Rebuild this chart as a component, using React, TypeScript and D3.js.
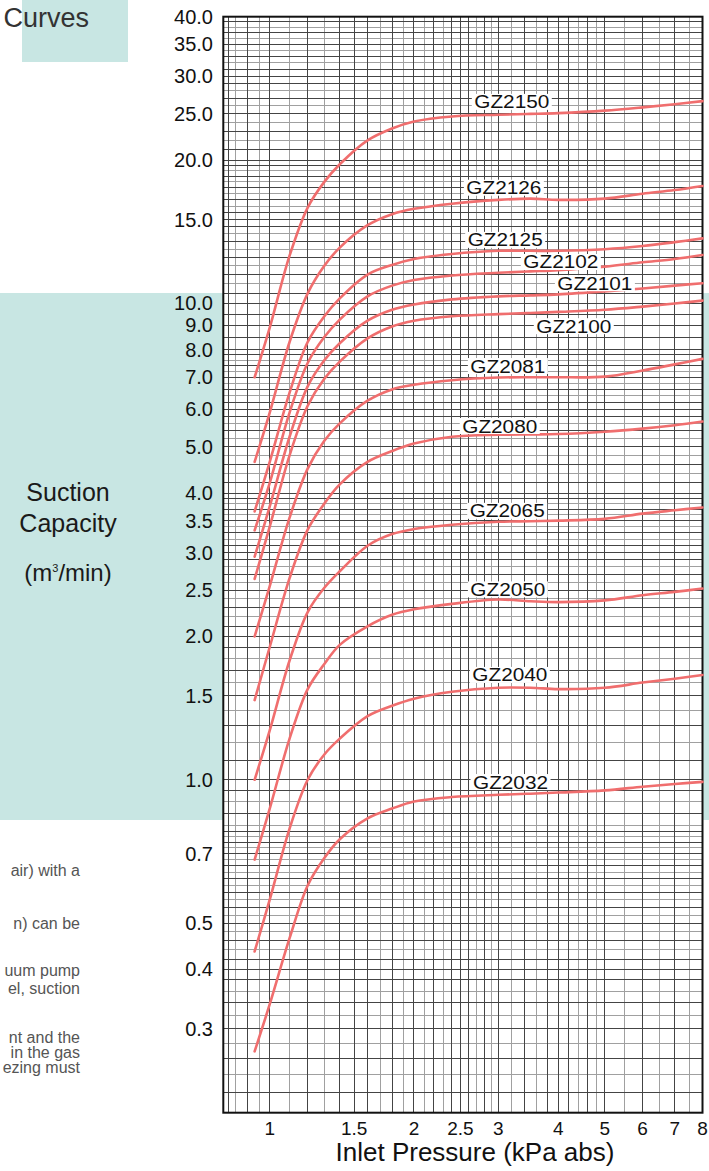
import React from "react";
import * as d3 from "d3";

const W = 709;
const H = 1171;

// Inlet pressure (kPa abs) sample points shared by every curve
const pressures = [0.93, 1.0, 1.1, 1.2, 1.3, 1.4, 1.6, 1.8, 2.0, 2.4, 3.0, 3.5, 4.0, 5.0, 6.0, 7.0, 8.0];

// Suction capacity (m3/min) per model
const gz2150 = [7.0, 8.9, 12.6, 15.9, 18.0, 19.6, 22.0, 23.3, 24.1, 24.7, 24.9, 25.0, 25.1, 25.4, 25.8, 26.2, 26.6];
const gz2126 = [4.65, 5.9, 8.3, 10.5, 12.0, 13.1, 14.6, 15.4, 15.8, 16.2, 16.5, 16.6, 16.5, 16.6, 17.0, 17.3, 17.65];
const gz2125 = [3.66, 4.65, 6.5, 8.3, 9.4, 10.25, 11.5, 12.05, 12.4, 12.7, 12.9, 12.9, 12.9, 13.0, 13.2, 13.45, 13.7];
const gz2102 = [3.34, 4.2, 5.9, 7.5, 8.5, 9.25, 10.35, 10.9, 11.2, 11.45, 11.6, 11.68, 11.75, 11.95, 12.2, 12.4, 12.64];
const gz2101 = [2.94, 3.75, 5.25, 6.7, 7.6, 8.25, 9.2, 9.7, 9.95, 10.2, 10.35, 10.4, 10.45, 10.6, 10.75, 10.9, 11.03];
const gz2100 = [2.64, 3.4, 4.8, 6.1, 6.95, 7.55, 8.45, 8.95, 9.2, 9.4, 9.5, 9.55, 9.6, 9.7, 9.85, 10.0, 10.14];
const gz2081 = [2.0, 2.55, 3.55, 4.5, 5.15, 5.6, 6.25, 6.6, 6.75, 6.9, 6.99, 7.0, 7.0, 7.02, 7.23, 7.45, 7.65];
const gz2080 = [1.47, 1.9, 2.65, 3.35, 3.8, 4.17, 4.65, 4.9, 5.08, 5.25, 5.3, 5.31, 5.32, 5.38, 5.46, 5.55, 5.65];
const gz2065 = [1.0, 1.27, 1.78, 2.25, 2.53, 2.74, 3.1, 3.28, 3.36, 3.43, 3.48, 3.49, 3.5, 3.53, 3.62, 3.68, 3.73];
const gz2050 = [0.68, 0.87, 1.22, 1.55, 1.75, 1.92, 2.1, 2.22, 2.28, 2.34, 2.39, 2.37, 2.36, 2.38, 2.44, 2.48, 2.52];
const gz2040 = [0.436, 0.56, 0.79, 1.0, 1.13, 1.22, 1.36, 1.43, 1.48, 1.53, 1.56, 1.56, 1.55, 1.56, 1.6, 1.63, 1.66];
const gz2032 = [0.269, 0.338, 0.465, 0.6, 0.685, 0.75, 0.83, 0.87, 0.9, 0.92, 0.93, 0.935, 0.94, 0.95, 0.967, 0.98, 0.99];

const seriesNames = ["GZ2150", "GZ2126", "GZ2125", "GZ2102", "GZ2101", "GZ2100", "GZ2081", "GZ2080", "GZ2065", "GZ2050", "GZ2040", "GZ2032"];
const seriesValues = [gz2150, gz2126, gz2125, gz2102, gz2101, gz2100, gz2081, gz2080, gz2065, gz2050, gz2040, gz2032];

// label anchor (data units)
const labelPressure = [3.2, 3.08, 3.1, 4.05, 4.77, 4.31, 3.14, 3.02, 3.13, 3.14, 3.17, 3.18];
const labelCapacity = [26.5, 17.5, 13.6, 12.22, 11.03, 8.96, 7.39, 5.53, 3.67, 2.51, 1.66, 0.989];

const yTickValues = [40, 35, 30, 25, 20, 15, 10, 9, 8, 7, 6, 5, 4, 3.5, 3, 2.5, 2, 1.5, 1, 0.7, 0.5, 0.4, 0.3];
const xTickValues = [1, 1.5, 2, 2.5, 3, 4, 5, 6, 7, 8];
const xTickLabels = ["1", "1.5", "2", "2.5", "3", "4", "5", "6", "7", "8"];

const sideNotes = ["air) with a", "n) can be", "uum pump", "el, suction", "nt and the", "in the gas", "ezing must"];

const FONT = "'Liberation Sans', Arial, Helvetica, sans-serif";
const TEAL = "#c8e6e3";
const CURVE = "#f06e6e";

function seg(a: number, b: number, step: number) {
  const out: number[] = [];
  const n = Math.round((b - a) / step);
  for (let i = 0; i < n; i++) out.push(+(a + i * step).toFixed(4));
  return out;
}

const xGrid = [0.82, 0.85, 0.9, 0.95, ...seg(1, 3, 0.1), ...seg(3, 5, 0.2), ...seg(5, 8, 0.5)];
const yGrid = [...seg(0.22, 0.8, 0.02), 0.8, 0.85, 0.9, 0.95, ...seg(1, 4, 0.1), ...seg(4, 8, 0.2), 8, 8.5, 9, 9.5, ...seg(10, 20, 0.5), ...seg(20, 40, 1)];

export default function App() {
  const left = 223.3, right = 702.5, top = 16.7, bottom = 1112.7;
  const x = d3.scaleLog().domain([0.8, 8]).range([left, right]);
  const y = d3.scaleLog().domain([0.2, 40]).range([bottom, top]);

  const line = d3
    .line<[number, number]>()
    .x((d) => x(d[0]))
    .y((d) => y(d[1]))
    .curve(d3.curveCatmullRom.alpha(0.5));

  const isMajorY = (v: number) => yTickValues.some((t) => Math.abs(t - v) < 1e-6);
  const isMajorX = (v: number) => xTickValues.some((t) => Math.abs(t - v) < 1e-6);

  const vLines = xGrid.map((v, i) => ({ v, dark: isMajorX(v) || i % 2 === 0 }));
  const hLines = yGrid.map((v, i) => ({ v, dark: isMajorY(v) || i % 2 === 0 }));

  const noteY = [876, 929, 976, 994, 1043, 1058, 1073];

  return (
    <svg
      width={W}
      height={H}
      viewBox={`0 0 ${W} ${H}`}
      style={{ position: "absolute", left: 0, top: 0, background: "#fff" }}
      fontFamily={FONT}
    >
      {/* decorative page background */}
      <rect x={22} y={0} width={106} height={62} fill={TEAL} />
      <text x={89} y={27} fontSize={27} textAnchor="end" fill="#333">Curves</text>
      <rect x={0} y={293} width={W} height={527} fill={TEAL} />

      {/* y axis title */}
      <text x={68} y={501} fontSize={25} textAnchor="middle" fill="#1a1a1a">Suction</text>
      <text x={68} y={532} fontSize={25} textAnchor="middle" fill="#1a1a1a">Capacity</text>
      <text x={68} y={581} fontSize={24} textAnchor="middle" fill="#1a1a1a">
        (m<tspan dy={-9} fontSize={11}>3</tspan><tspan dy={9}>/min)</tspan>
      </text>

      {/* cropped side notes */}
      {sideNotes.map((t, i) => (
        <text key={t} x={80} y={noteY[i]} fontSize={16} textAnchor="end" fill="#555">
          {t}
        </text>
      ))}

      {/* plot background */}
      <rect x={left} y={top} width={right - left} height={bottom - top} fill="#fff" />

      {/* grid */}
      <g shapeRendering="crispEdges">
        {vLines.filter((l) => !l.dark).map((l) => (
          <line key={"vl" + l.v} x1={x(l.v)} x2={x(l.v)} y1={top} y2={bottom} stroke="#a0a0a0" strokeWidth={1} />
        ))}
        {hLines.filter((l) => !l.dark).map((l) => (
          <line key={"hl" + l.v} x1={left} x2={right} y1={y(l.v)} y2={y(l.v)} stroke="#a0a0a0" strokeWidth={1} />
        ))}
        {vLines.filter((l) => l.dark).map((l) => (
          <line key={"vd" + l.v} x1={x(l.v)} x2={x(l.v)} y1={top} y2={bottom} stroke="#444" strokeWidth={1} />
        ))}
        {hLines.filter((l) => l.dark).map((l) => (
          <line key={"hd" + l.v} x1={left} x2={right} y1={y(l.v)} y2={y(l.v)} stroke="#444" strokeWidth={1} />
        ))}
      </g>
      <rect x={left} y={top} width={right - left} height={bottom - top} fill="none" stroke="#111" strokeWidth={2} />

      {/* curves */}
      {seriesValues.map((vals, i) => (
        <path
          key={seriesNames[i]}
          d={line(pressures.map((p, j) => [p, vals[j]] as [number, number])) || ""}
          fill="none"
          stroke={CURVE}
          strokeWidth={2.6}
          strokeLinecap="round"
        />
      ))}

      {/* curve labels */}
      {seriesNames.map((n, i) => {
        const cx = x(labelPressure[i]);
        const cy = y(labelCapacity[i]);
        return (
          <g key={"lab" + n}>
            <rect x={cx - 40} y={cy - 8} width={80} height={16} fill="#fff" />
            <text x={cx} y={cy + 6.5} fontSize={18} textAnchor="middle" textLength={75} lengthAdjust="spacingAndGlyphs" fill="#111">
              {n}
            </text>
          </g>
        );
      })}

      {/* y tick labels */}
      {yTickValues.map((v) => (
        <text key={"yt" + v} x={213} y={y(v) + 7} fontSize={20} textAnchor="end" fill="#111">
          {v.toFixed(1)}
        </text>
      ))}

      {/* x tick labels */}
      {xTickValues.map((v, i) => (
        <text key={"xt" + v} x={x(v)} y={1135} fontSize={19} textAnchor="middle" fill="#111">
          {xTickLabels[i]}
        </text>
      ))}
      <text x={475} y={1161} fontSize={26} textAnchor="middle" fill="#111">Inlet Pressure (kPa abs)</text>
    </svg>
  );
}
